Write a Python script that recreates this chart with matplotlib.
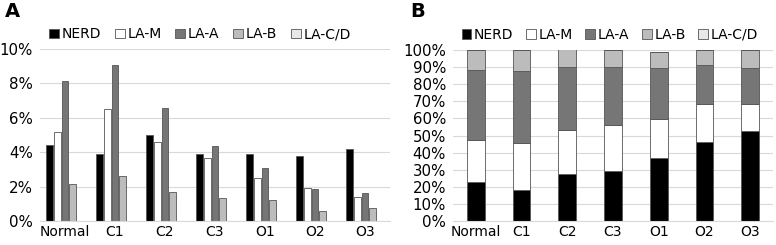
import matplotlib.pyplot as plt
import numpy as np

plt.rcParams['font.family'] = ['DejaVu Sans']

groups = ['Normal', 'C1', 'C2', 'C3', 'O1', 'O2', 'O3']
series = ['NERD', 'LA-M', 'LA-A', 'LA-B', 'LA-C/D']
colors = ['#000000', '#ffffff', '#767676', '#bcbcbc', '#e8e8e8']

# panel A: frequency (%)
nerd_a = [4.41, 3.90, 4.99, 3.90, 3.92, 3.77, 4.19]
lam_a = [5.15, 6.54, 4.62, 3.69, 2.50, 1.90, 1.38]
laa_a = [8.16, 9.07, 6.56, 4.37, 3.07, 1.86, 1.63]
lab_a = [2.16, 2.60, 1.67, 1.32, 1.20, 0.58, 0.78]
lacd_a = [0, 0, 0, 0, 0, 0, 0]

# panel B: composition (%)
nerd_b = [22.6, 17.9, 27.3, 29.4, 37.0, 46.4, 52.4]
lam_b = [25.0, 27.9, 25.7, 26.7, 22.6, 22.2, 16.2]
laa_b = [40.9, 41.9, 37.1, 33.8, 29.7, 22.4, 20.7]
lab_b = [11.5, 12.3, 10.5, 10.1, 9.7, 9.0, 10.7]
lacd_b = [0, 0, 0, 0, 0, 0, 0]

grid_c = '#d9d9d9'
edge_c = '#555555'
fs = 10
fs_y = 10.8


def style_axes(ax):
    for s in ['top', 'right', 'left']:
        ax.spines[s].set_visible(False)
    ax.spines['bottom'].set_color(grid_c)
    ax.yaxis.grid(True, color=grid_c, linewidth=0.8)
    ax.set_axisbelow(True)
    ax.tick_params(length=0)
    ax.tick_params(axis='x', pad=3, labelsize=fs)
    ax.tick_params(axis='y', pad=5, labelsize=fs_y)


fig = plt.figure(figsize=(7.76, 2.45), dpi=100)

# ---- A ----
axA = fig.add_axes([40 / 776, 24 / 245, 350 / 776, 172 / 245])
x = np.arange(len(groups))
data_a = [nerd_a, lam_a, laa_a, lab_a, lacd_a]
slot = 0.156
for i, vals in enumerate(data_a):
    axA.bar(x + (i - 2) * slot, vals, width=0.135, color=colors[i],
            edgecolor=edge_c, linewidth=0.6, label=series[i])
axA.set_xlim(-0.5, 6.5)
axA.set_ylim(0, 10)
axA.set_yticks(range(0, 11, 2))
axA.set_yticklabels([f'{v}%' for v in range(0, 11, 2)])
axA.set_xticks(x)
axA.set_xticklabels(groups)
style_axes(axA)
axA.legend(loc='center', bbox_to_anchor=(0.457, 1.085), ncol=5, frameon=False,
           fontsize=fs, handlelength=0.7, handleheight=0.7, handletextpad=0.2,
           columnspacing=1.0, borderaxespad=0)
fig.text(5 / 776, 1 - 2 / 245, 'A', fontsize=14, fontweight='bold', va='top')

# ---- B ----
axB = fig.add_axes([453 / 776, 24 / 245, 320 / 776, 171 / 245])
data_b = [nerd_b, lam_b, laa_b, lab_b, lacd_b]
bottom = np.zeros(len(groups))
for i, vals in enumerate(data_b):
    axB.bar(x, vals, width=0.39, bottom=bottom, color=colors[i],
            edgecolor=edge_c, linewidth=0.6, label=series[i])
    bottom += np.array(vals)
axB.set_xlim(-0.5, 6.5)
axB.set_ylim(0, 100)
axB.set_yticks(range(0, 101, 10))
axB.set_yticklabels([f'{v}%' for v in range(0, 101, 10)])
axB.set_xticks(x)
axB.set_xticklabels(groups)
style_axes(axB)
axB.legend(loc='center', bbox_to_anchor=(0.49, 1.09), ncol=5, frameon=False,
           fontsize=fs, handlelength=0.7, handleheight=0.7, handletextpad=0.2,
           columnspacing=0.9, borderaxespad=0)
fig.text(410 / 776, 1 - 2 / 245, 'B', fontsize=14, fontweight='bold', va='top')

fig.savefig('out.png', dpi=100)
